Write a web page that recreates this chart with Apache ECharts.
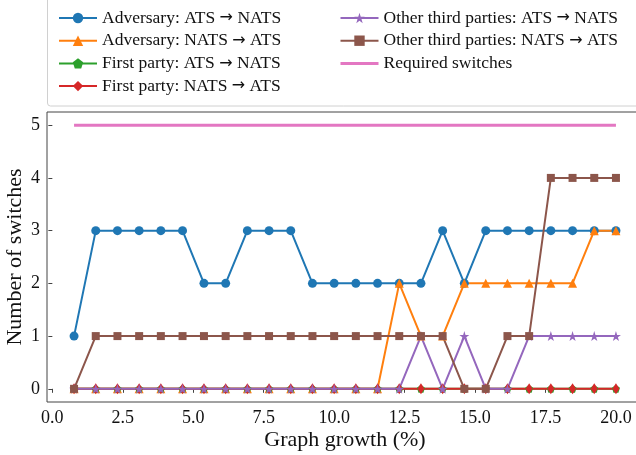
<!DOCTYPE html>
<html>
<head>
<meta charset="utf-8">
<script src="https://cdn.jsdelivr.net/npm/echarts@6/dist/echarts.min.js"></script>
<style>
  html, body { margin: 0; padding: 0; background: #fff; }
  #chart { width: 636px; height: 455px; }
</style>
</head>
<body>
<div id="chart"></div>
<script>
// Graph growth (%) at each measurement step
const growth = [0.77, 1.54, 2.31, 3.08, 3.85, 4.62, 5.38, 6.15, 6.92, 7.69, 8.46, 9.23, 10.0,
  10.77, 11.54, 12.31, 13.08, 13.85, 14.62, 15.38, 16.15, 16.92, 17.69, 18.46, 19.23, 20.0];

// Number of switches per group
const advAtsToNats   = [1, 3, 3, 3, 3, 3, 2, 2, 3, 3, 3, 2, 2, 2, 2, 2, 2, 3, 2, 3, 3, 3, 3, 3, 3, 3];
const advNatsToAts   = [0, 0, 0, 0, 0, 0, 0, 0, 0, 0, 0, 0, 0, 0, 0, 2, 1, 1, 2, 2, 2, 2, 2, 2, 3, 3];
const fpAtsToNats    = [0, 0, 0, 0, 0, 0, 0, 0, 0, 0, 0, 0, 0, 0, 0, 0, 0, 0, 0, 0, 0, 0, 0, 0, 0, 0];
const fpNatsToAts    = [0, 0, 0, 0, 0, 0, 0, 0, 0, 0, 0, 0, 0, 0, 0, 0, 0, 0, 0, 0, 0, 0, 0, 0, 0, 0];
const otpAtsToNats   = [0, 0, 0, 0, 0, 0, 0, 0, 0, 0, 0, 0, 0, 0, 0, 0, 1, 0, 1, 0, 0, 1, 1, 1, 1, 1];
const otpNatsToAts   = [0, 1, 1, 1, 1, 1, 1, 1, 1, 1, 1, 1, 1, 1, 1, 1, 1, 1, 0, 0, 1, 1, 4, 4, 4, 4];
const requiredSwitch = [5, 5, 5, 5, 5, 5, 5, 5, 5, 5, 5, 5, 5, 5, 5, 5, 5, 5, 5, 5, 5, 5, 5, 5, 5, 5];

const xTicks = [0, 2.5, 5, 7.5, 10, 12.5, 15, 17.5, 20];
const yTicks = [0, 1, 2, 3, 4, 5];

const FONT = '"Liberation Serif", "DejaVu Serif", serif';

const PENTAGON = 'path://M0,-1 L0.951,-0.309 L0.588,0.809 L-0.588,0.809 L-0.951,-0.309 Z';
const STAR = 'path://M0,-1 L0.2245,-0.309 L0.951,-0.309 L0.363,0.118 L0.588,0.809 L0,0.382 L-0.588,0.809 L-0.363,0.118 L-0.951,-0.309 L-0.2245,-0.309 Z';
const THIN_DIAMOND = 'path://M0,-1 L0.6,0 L0,1 L-0.6,0 Z';

function pairs(ys) {
  return growth.map((x, i) => [x, ys[i]]);
}

function lineSeries(name, ys, color, symbol, size, width) {
  return {
    name: name,
    type: 'line',
    data: pairs(ys),
    symbol: symbol,
    symbolSize: size,
    showSymbol: symbol !== 'none',
    lineStyle: { color: color, width: width || 2 },
    itemStyle: { color: color },
    emphasis: { disabled: true },
    animation: false
  };
}

const series = [
  lineSeries('Adversary: ATS \u2192 NATS', advAtsToNats, '#1f77b4', 'circle', 9),
  lineSeries('Adversary: NATS \u2192 ATS', advNatsToAts, '#ff7f0e', 'triangle', 9),
  lineSeries('First party: ATS \u2192 NATS', fpAtsToNats, '#2ca02c', PENTAGON, 8),
  lineSeries('First party: NATS \u2192 ATS', fpNatsToAts, '#d62728', THIN_DIAMOND, [7, 11]),
  lineSeries('Other third parties: ATS \u2192 NATS', otpAtsToNats, '#9467bd', STAR, 10),
  lineSeries('Other third parties: NATS \u2192 ATS', otpNatsToAts, '#8c564b', 'rect', 8),
  lineSeries('Required switches', requiredSwitch, '#e377c2', 'none', 0, 3)
];

// Legend labels: the arrow is drawn in a separate rich-text run so it gets a long glyph
const legendText = {
  fontFamily: FONT, fontSize: 17.5, color: '#111', lineHeight: 18,
  rich: {
    arr: { fontFamily: '"DejaVu Sans", sans-serif', fontSize: 16, color: '#111', lineHeight: 18 }
  }
};
const legendFormatter = name => name.replace('\u2192', '{arr|\u2192}');

// Legend entries; the plain line (no marker) hides its symbol
function legendEntry(s) {
  return s.symbol === 'none'
    ? { name: s.name, itemStyle: { opacity: 0 }, lineStyle: { width: 3, color: s.lineStyle.color } }
    : s.name;
}

const chart = echarts.init(document.getElementById('chart'), null, { renderer: 'canvas' });
chart.setOption({
  backgroundColor: '#fff',
  animation: false,
  graphic: [{
    type: 'rect',
    shape: { x: 47.5, y: -5, width: 620, height: 111, r: 3 },
    style: { fill: '#fff', stroke: '#d0d0d0', lineWidth: 1 },
    z: 5
  }],
  legend: [{
    orient: 'vertical',
    left: 53, top: 4,
    itemWidth: 38, itemHeight: 13, itemGap: 4.7,
    textStyle: legendText,
    formatter: legendFormatter,
    selectedMode: false,
    z: 10,
    data: series.slice(0, 4).map(legendEntry)
  }, {
    orient: 'vertical',
    left: 334, top: 4,
    itemWidth: 38, itemHeight: 13, itemGap: 4.7,
    textStyle: legendText,
    formatter: legendFormatter,
    selectedMode: false,
    z: 10,
    data: series.slice(4).map(legendEntry)
  }],
  grid: {
    left: 47, right: -7, top: 112, bottom: 53,
    show: true, borderColor: '#444', borderWidth: 1, backgroundColor: 'transparent',
    containLabel: false,
    outerBoundsMode: 'none'
  },
  xAxis: {
    type: 'value',
    min: -0.19, max: 20.96,
    name: 'Graph growth (%)',
    nameLocation: 'middle', nameGap: 27,
    nameMoveOverlap: false,
    nameTextStyle: { fontFamily: FONT, fontSize: 22, color: '#111' },
    axisLine: { show: false },
    axisTick: { show: true, length: 4, lineStyle: { color: '#444' }, customValues: xTicks },
    axisLabel: {
      fontFamily: FONT, fontSize: 18, color: '#111', margin: 7,
      customValues: xTicks, formatter: v => v.toFixed(1)
    },
    splitLine: { show: false }
  },
  yAxis: {
    type: 'value',
    min: -0.25, max: 5.25,
    name: 'Number of switches',
    nameLocation: 'middle', nameGap: 21,
    nameMoveOverlap: false,
    nameTextStyle: { fontFamily: FONT, fontSize: 22, color: '#111' },
    axisLine: { show: false },
    axisTick: { show: true, length: 4, lineStyle: { color: '#444' }, customValues: yTicks },
    axisLabel: {
      fontFamily: FONT, fontSize: 18, color: '#111', margin: 7,
      customValues: yTicks, formatter: v => String(v)
    },
    splitLine: { show: false }
  },
  series: series
});
</script>
</body>
</html>
